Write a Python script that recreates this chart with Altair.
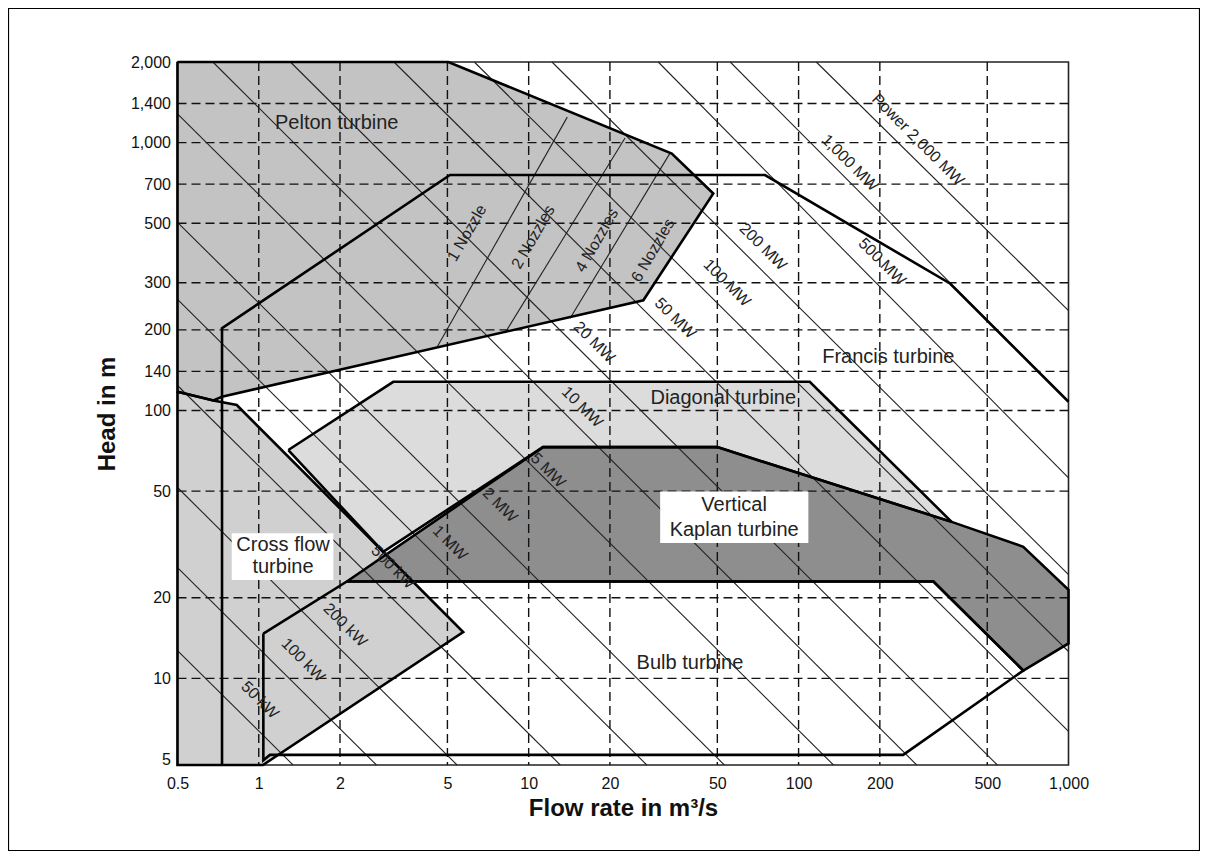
import altair as alt
import pandas as pd

# ---------------- axis ticks / grid ----------------
Q_TICKS = [0.5, 1, 2, 5, 10, 20, 50, 100, 200, 500, 1000]
H_TICKS = [5, 10, 20, 50, 100, 140, 200, 300, 500, 700, 1000, 1400, 2000]
Q_GRID = [1, 2, 5, 10, 20, 50, 100, 200, 500]
H_GRID = [10, 20, 50, 100, 140, 200, 300, 500, 700, 1000, 1400]

# ---------------- turbine regions (flow m3/s, head m) ----------------
PELTON_Q = [0.5, 5.04, 33.9, 48.3, 26.6, 0.731, 0.679, 0.5, 0.5]
PELTON_H = [2000, 2000, 910, 646, 258, 112.6, 109, 117.5, 2000]

FRANCIS_Q = [0.731, 0.731, 5.11, 75.1, 364, 1000]
FRANCIS_H = [4.75, 203, 757, 757, 298, 107.8]

CROSS_Q = [0.5, 0.679, 0.829, 2.89, 5.72, 1.036, 0.5, 0.5]
CROSS_H = [117.5, 109, 104.8, 29.7, 14.9, 4.75, 4.75, 117.5]

DIAG_Q = [1.287, 3.15, 110, 369, 50, 11.3, 2.89, 1.287]
DIAG_H = [71.2, 128, 128, 38.4, 73, 73, 29.7, 71.2]

KAPLAN_Q = [2.12, 11.3, 50, 369, 680, 1000, 1000, 680, 316, 2.12]
KAPLAN_H = [23, 73, 73, 38.4, 31.0, 21.4, 13.5, 10.7, 23, 23]

BULB_Q = [1.04, 2.12, 316, 680, 244, 1.1, 1.04, 1.04]
BULB_H = [14.7, 23, 23, 10.7, 5.18, 5.18, 4.95, 14.7]

# ---------------- power lines ----------------
POWER_NAMES = ["50 kW", "100 kW", "200 kW", "500 kW", "1 MW", "2 MW", "5 MW",
               "10 MW", "20 MW", "50 MW", "100 MW", "200 MW", "500 MW",
               "1,000 MW", "Power 2,000 MW"]
POWER_Q1 = [0.5, 0.5, 0.5, 0.5, 0.5, 0.5, 0.5, 0.676, 1.31, 3.17, 6.29, 12.2, 30.2, 55.8, 116.3]
POWER_H1 = [12.7, 25.9, 51.6, 124, 260, 504, 1280, 2000, 2000, 2000, 2000, 2000, 2000, 2000, 2000]
POWER_Q2 = [1.34, 2.73, 5.43, 13.1, 27.4, 53.1, 134.7, 274, 545, 1000, 1000, 1000, 1000, 1000, 1000]
POWER_H2 = [4.75, 4.75, 4.75, 4.75, 4.75, 4.75, 4.75, 4.75, 4.75, 6.34, 12.6, 24.4, 56, 107.8, 236]
POWER_LABEL_Q = [1.01, 1.46, 2.09, 3.14, 5.11, 7.83, 11.8, 15.8, 17.5, 34.9, 54.3, 73.8, 204, 155, 277]
POWER_LABEL_H = [8.3, 11.7, 15.8, 26.0, 32.0, 44.3, 59.8, 103, 180, 221, 299, 408, 359, 840, 1024]

# ---------------- Pelton nozzle lines ----------------
NOZZLE_Q1 = [4.58, 8.17, 14.24]
NOZZLE_H1 = [172.6, 194.7, 221]
NOZZLE_Q2 = [13.9, 22.75, 33.4]
NOZZLE_H2 = [1245, 1040, 914]
NOZZLE_NAMES = ["1 Nozzle", "2 Nozzles", "4 Nozzles", "6 Nozzles"]
NOZZLE_LABEL_Q = [5.91, 10.4, 17.9, 28.9]
NOZZLE_LABEL_H = [460, 444, 432, 396]

# ---------------- region labels ----------------
REGION_TEXT = ["Pelton turbine", "Francis turbine", "Diagonal turbine", "Vertical",
               "Kaplan turbine", "Cross flow", "turbine", "Bulb turbine"]
REGION_Q = [1.945, 215, 52.6, 57.7, 57.7, 1.23, 1.23, 39.6]
REGION_H = [1180, 158, 111, 44.3, 35.8, 31.5, 26.0, 11.4]

BOX_Q1 = [30.7, 0.794]
BOX_Q2 = [108.7, 1.89]
BOX_H1 = [49.9, 34.8]
BOX_H2 = [32.0, 23.3]

SANS = "Liberation Sans, Arial, Helvetica, sans-serif"

xs = alt.Scale(type="log", domain=[0.5, 1000], nice=False)
ys = alt.Scale(type="log", domain=[4.75, 2000], nice=False)
X = alt.X("Q:Q", scale=xs, axis=alt.Axis(
    values=Q_TICKS, format=",", title="Flow rate in m³/s", grid=False, ticks=False,
    domain=False, labelFlush=False, labelOverlap=False, labelFont=SANS,
    labelFontSize=16, labelPadding=10, labelColor="#111",
    titleFont=SANS, titleFontSize=24, titleFontWeight="bold", titlePadding=5,
    titleColor="#111"))
Y = alt.Y("H:Q", scale=ys, axis=alt.Axis(
    values=H_TICKS, format=",", title="Head in m", grid=False, ticks=False,
    domain=False, labelFlush=False, labelOverlap=False, labelFont=SANS,
    labelFontSize=16, labelPadding=7, labelColor="#111",
    titleFont=SANS, titleFontSize=24, titleFontWeight="bold", titlePadding=11,
    titleColor="#111"))


def poly_df(qs, hs):
    return pd.DataFrame({"Q": qs, "H": hs, "i": list(range(len(qs)))})


def fill_layer(qs, hs, color):
    return alt.Chart(poly_df(qs, hs)).mark_line(
        fill=color, strokeOpacity=0, interpolate="linear"
    ).encode(x=X, y=Y, order="i:Q")


def outline_layer(qs, hs, width=2.6):
    return alt.Chart(poly_df(qs, hs)).mark_line(
        color="#000", strokeWidth=width, strokeJoin="miter", interpolate="linear"
    ).encode(x=X, y=Y, order="i:Q")


fills = [
    fill_layer(PELTON_Q, PELTON_H, "#c3c3c3"),
    fill_layer(DIAG_Q, DIAG_H, "#dcdcdc"),
    fill_layer(CROSS_Q, CROSS_H, "#d0d0d0"),
    fill_layer(KAPLAN_Q, KAPLAN_H, "#8e8e8e"),
]

grid_v = alt.Chart(pd.DataFrame({"Q": Q_GRID})).mark_rule(
    color="#111", strokeWidth=1.4, strokeDash=[9, 5]).encode(x=X)
grid_h = alt.Chart(pd.DataFrame({"H": H_GRID})).mark_rule(
    color="#111", strokeWidth=1.4, strokeDash=[9, 5]).encode(y=Y)

prow = []
for k, name in enumerate(POWER_NAMES):
    prow.append({"line": name, "Q": POWER_Q1[k], "H": POWER_H1[k], "i": 0})
    prow.append({"line": name, "Q": POWER_Q2[k], "H": POWER_H2[k], "i": 1})
power = alt.Chart(pd.DataFrame(prow)).mark_line(
    color="#222", strokeWidth=1.1).encode(x=X, y=Y, detail="line:N", order="i:Q")

nrow = []
for k in range(len(NOZZLE_Q1)):
    nrow.append({"line": k, "Q": NOZZLE_Q1[k], "H": NOZZLE_H1[k], "i": 0})
    nrow.append({"line": k, "Q": NOZZLE_Q2[k], "H": NOZZLE_H2[k], "i": 1})
nozzles = alt.Chart(pd.DataFrame(nrow)).mark_line(
    color="#222", strokeWidth=1.1).encode(x=X, y=Y, detail="line:N", order="i:Q")

outlines = [
    outline_layer(FRANCIS_Q, FRANCIS_H),
    outline_layer(PELTON_Q, PELTON_H),
    outline_layer(DIAG_Q, DIAG_H),
    outline_layer(CROSS_Q, CROSS_H),
    outline_layer(KAPLAN_Q, KAPLAN_H),
    outline_layer(BULB_Q, BULB_H),
]

boxes = alt.Chart(pd.DataFrame({"Q": BOX_Q1, "Q2": BOX_Q2, "H": BOX_H1, "H2": BOX_H2})).mark_rect(
    fill="white", strokeWidth=0).encode(x=X, x2="Q2:Q", y=Y, y2="H2:Q")

power_text = alt.Chart(pd.DataFrame({"Q": POWER_LABEL_Q, "H": POWER_LABEL_H, "t": POWER_NAMES})).mark_text(
    font=SANS, fontSize=16, angle=45, color="#222", align="center", baseline="middle"
).encode(x=X, y=Y, text="t:N")

nozzle_text = alt.Chart(pd.DataFrame({"Q": NOZZLE_LABEL_Q, "H": NOZZLE_LABEL_H, "t": NOZZLE_NAMES})).mark_text(
    font=SANS, fontSize=16, angle=300, color="#222", align="center", baseline="middle"
).encode(x=X, y=Y, text="t:N")

region_text = alt.Chart(pd.DataFrame({"Q": REGION_Q, "H": REGION_H, "t": REGION_TEXT})).mark_text(
    font=SANS, fontSize=20, color="#222", align="center", baseline="middle"
).encode(x=X, y=Y, text="t:N")

frame = alt.Chart(pd.DataFrame({"a": [0]})).mark_rect(
    fillOpacity=0, stroke="#000", strokeWidth=1.2
).encode(x=alt.value(-169), x2=alt.value(1022), y=alt.value(-53.5), y2=alt.value(788.5))

chart = alt.layer(
    *fills, grid_v, grid_h, power, nozzles, *outlines, boxes,
    power_text, nozzle_text, region_text, frame
).properties(
    width=891, height=703,
    padding={"left": 169.5, "top": 54, "right": 131.5, "bottom": 86},
    autosize=alt.AutoSizeParams(type="none"),
    background="white",
).configure_view(stroke="#222", strokeWidth=1.6)

chart.save("out.html", embed_options={"renderer": "svg", "actions": False})
